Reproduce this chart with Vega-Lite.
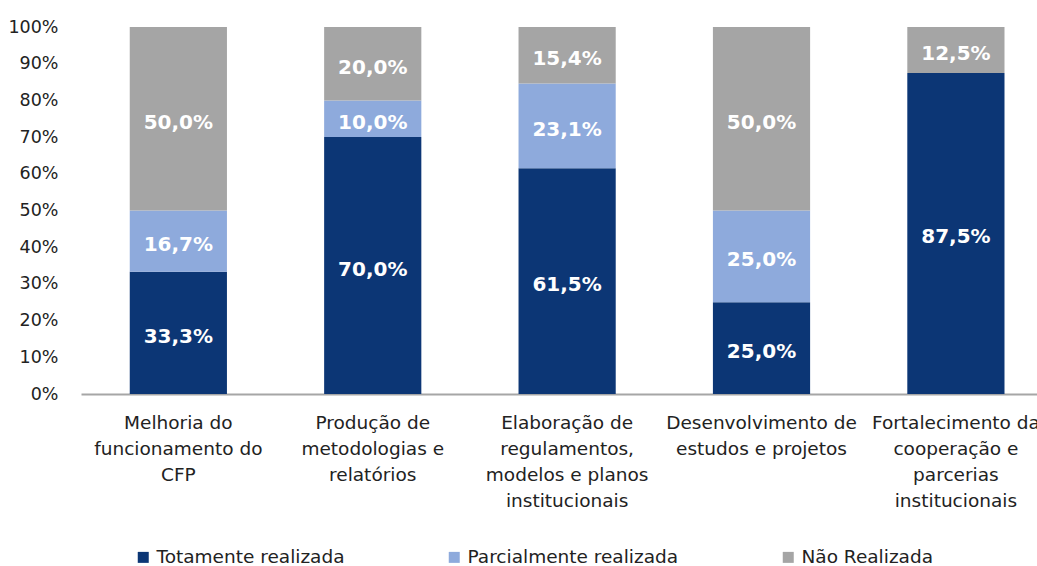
{
  "$schema": "https://vega.github.io/schema/vega-lite/v6.json",
  "width": 956,
  "height": 367,
  "autosize": {"type": "none"},
  "padding": {"left": 81, "top": 27, "right": 0, "bottom": 172},
  "config": {
    "view": {"stroke": null},
    "font": "DejaVu Sans",
    "locale": {"number": {"decimal": ",", "thousands": ".", "grouping": [3], "currency": ["", " €"]}},
    "axisY": {
      "title": null,
      "format": ".0%",
      "grid": false,
      "domain": false,
      "ticks": false,
      "tickSize": 0,
      "labelOverlap": false,
      "labelPadding": 23,
      "labelFontSize": 17.5,
      "labelColor": "#222222"
    }
  },
  "data": {
    "values": [
      {"categoria": "Melhoria do funcionamento do CFP", "estado": "Totamente realizada", "valor": 0.333},
      {"categoria": "Melhoria do funcionamento do CFP", "estado": "Parcialmente realizada", "valor": 0.167},
      {"categoria": "Melhoria do funcionamento do CFP", "estado": "Não Realizada", "valor": 0.5},
      {"categoria": "Produção de metodologias e relatórios", "estado": "Totamente realizada", "valor": 0.7},
      {"categoria": "Produção de metodologias e relatórios", "estado": "Parcialmente realizada", "valor": 0.1},
      {"categoria": "Produção de metodologias e relatórios", "estado": "Não Realizada", "valor": 0.2},
      {"categoria": "Elaboração de regulamentos, modelos e planos institucionais", "estado": "Totamente realizada", "valor": 0.615},
      {"categoria": "Elaboração de regulamentos, modelos e planos institucionais", "estado": "Parcialmente realizada", "valor": 0.231},
      {"categoria": "Elaboração de regulamentos, modelos e planos institucionais", "estado": "Não Realizada", "valor": 0.154},
      {"categoria": "Desenvolvimento de estudos e projetos", "estado": "Totamente realizada", "valor": 0.25},
      {"categoria": "Desenvolvimento de estudos e projetos", "estado": "Parcialmente realizada", "valor": 0.25},
      {"categoria": "Desenvolvimento de estudos e projetos", "estado": "Não Realizada", "valor": 0.5},
      {"categoria": "Fortalecimento da cooperação e parcerias institucionais", "estado": "Totamente realizada", "valor": 0.875},
      {"categoria": "Fortalecimento da cooperação e parcerias institucionais", "estado": "Não Realizada", "valor": 0.125}
    ]
  },
  "transform": [
    {"stack": "valor", "groupby": ["categoria"], "sort": [{"field": "estado", "order": "descending"}], "as": ["v0", "v1"]},
    {"calculate": "(datum.v0 + datum.v1) / 2", "as": "meio"}
  ],
  "encoding": {
    "x": {
      "field": "categoria",
      "type": "nominal",
      "sort": null,
      "scale": {"paddingInner": 0.5, "paddingOuter": 0.209, "align": 0.6},
      "axis": {
        "title": null,
        "labelAngle": 0,
        "ticks": false,
        "tickSize": 0,
        "domainColor": "#a6a6a6",
        "domainWidth": 2,
        "labelFontSize": 18.5,
        "labelColor": "#222222",
        "labelPadding": 19,
        "labelLineHeight": 26,
        "labelBaseline": "top",
        "labelLimit": 400,
        "labelOverlap": false,
        "labelExpr": "datum.value == 'Melhoria do funcionamento do CFP' ? ['Melhoria do', 'funcionamento do', 'CFP'] : datum.value == 'Produção de metodologias e relatórios' ? ['Produção de', 'metodologias e', 'relatórios'] : datum.value == 'Elaboração de regulamentos, modelos e planos institucionais' ? ['Elaboração de', 'regulamentos,', 'modelos e planos', 'institucionais'] : datum.value == 'Desenvolvimento de estudos e projetos' ? ['Desenvolvimento de', 'estudos e projetos'] : ['Fortalecimento da', 'cooperação e', 'parcerias', 'institucionais']"
      }
    }
  },
  "layer": [
    {
      "mark": {"type": "bar"},
      "encoding": {
        "y": {
          "field": "v0",
          "type": "quantitative",
          "scale": {"domain": [0, 1], "nice": false},
          "axis": {"values": [0, 0.1, 0.2, 0.3, 0.4, 0.5, 0.6, 0.7, 0.8, 0.9, 1]}
        },
        "y2": {"field": "v1"},
        "color": {
          "field": "estado",
          "type": "nominal",
          "scale": {
            "domain": ["Totamente realizada", "Parcialmente realizada", "Não Realizada"],
            "range": ["#0c3675", "#8eaadc", "#a5a5a5"]
          },
          "legend": {
            "title": null,
            "orient": "none",
            "legendX": 53,
            "legendY": 521,
            "direction": "horizontal",
            "columns": 3,
            "columnPadding": 100,
            "symbolType": "square",
            "symbolSize": 121,
            "symbolStrokeWidth": 0,
            "labelFontSize": 18.5,
            "labelColor": "#222222",
            "labelOffset": 4,
            "labelLimit": 400
          }
        }
      }
    },
    {
      "mark": {"type": "text", "color": "white", "fontWeight": "bold", "fontSize": 20, "dy": 4},
      "encoding": {
        "y": {
          "field": "meio",
          "type": "quantitative",
          "axis": {"values": [0, 0.1, 0.2, 0.3, 0.4, 0.5, 0.6, 0.7, 0.8, 0.9, 1]}
        },
        "text": {"field": "valor", "type": "quantitative", "format": ".1%"}
      }
    }
  ]
}
